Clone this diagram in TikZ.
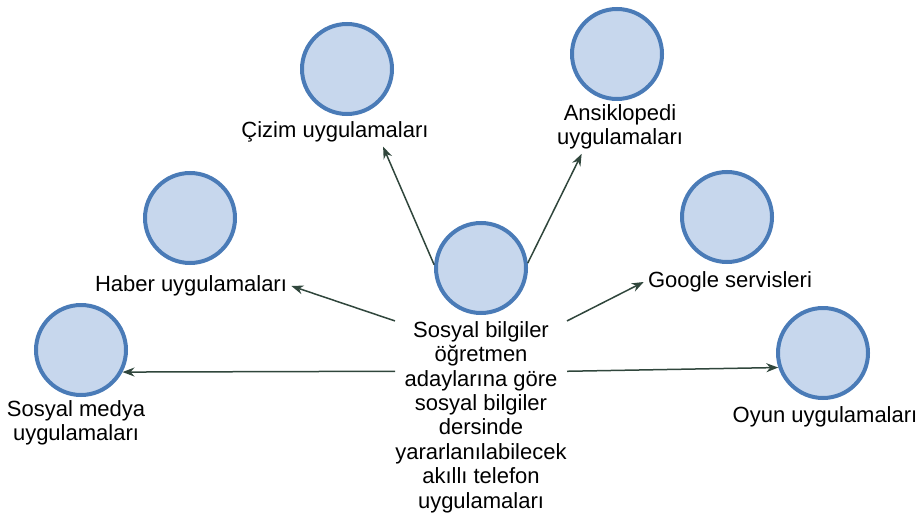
\documentclass[tikz,border=0pt]{standalone}
\usepackage{fontspec}
\setmainfont{Liberation Sans}
\usetikzlibrary{arrows.meta}
\definecolor{daire}{RGB}{199,215,237}
\definecolor{cerceve}{RGB}{74,123,183}
\definecolor{okrengi}{RGB}{48,70,60}
\begin{document}
\begin{tikzpicture}[x=0.5pt,y=-0.5pt]
      \useasboundingbox (0,0) rectangle (919,519);

      \begin{scope}[every node/.style={circle,draw=cerceve,fill=daire,line width=2pt,minimum size=45pt,inner sep=0pt}]
        \node (merkez)      at (481,268) {};
        \node (cizim)       at (347,69)  {};
        \node (ansiklopedi) at (617,54)  {};
        \node (haber)       at (190,218) {};
        \node (google)      at (727,217) {};
        \node (sosyal)      at (81,350)  {};
        \node (oyun)        at (823,353) {};
      \end{scope}

      \begin{scope}[every node/.style={align=center,inner sep=2pt,font=\fontsize{11}{12.2}\selectfont}]
        \node[inner sep=0pt] (merkezy) at (481,417) {Sosyal bilgiler\\öğretmen\\adaylarına göre\\sosyal bilgiler\\dersinde\\yararlanılabilecek\\akıllı telefon\\uygulamaları};
        \node (cizimy)       at (335,132) {Çizim uygulamaları};
        \node (ansiklopediy) at (620,127) {Ansiklopedi\\uygulamaları};
        \node (habery)       at (191,286) {Haber uygulamaları};
        \node (googley)      at (730,282) {Google servisleri};
        \node (sosyaly)      at (76,423)  {Sosyal medya\\uygulamaları};
        \node (oyuny)        at (825,417) {Oyun uygulamaları};
      \end{scope}

      \begin{scope}[every edge/.style={draw=okrengi,line width=0.75pt,-{Stealth[length=6pt,width=4.5pt]}}]
        \path (merkez.176)         edge (cizimy.-17);
        \path (merkez.6)           edge (ansiklopediy.215);
        \path (merkezy.north west) edge (habery.east);
        \path (merkezy.north east) edge (googley.west);
        \path (merkezy.152)        edge (sosyal.-28);
        \path (merkezy.28)         edge (oyun.198);
      \end{scope}

    \end{tikzpicture}
\end{document}
